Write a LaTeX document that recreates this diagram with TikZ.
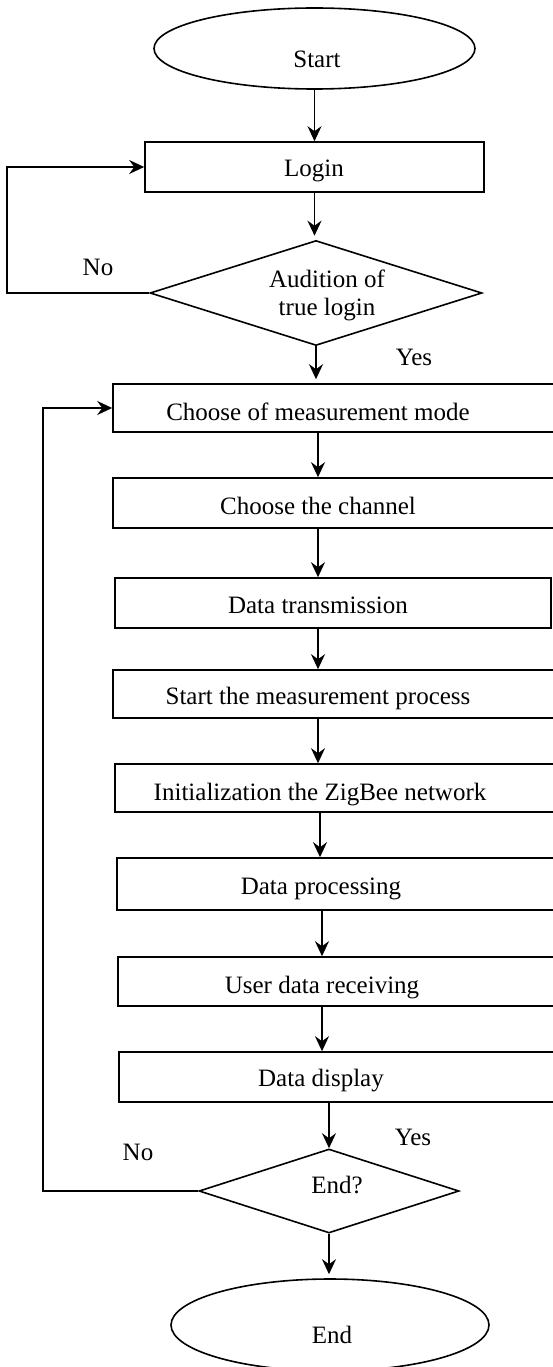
\documentclass[tikz,border=0pt]{standalone}
\usepackage{fontspec}
\setmainfont{Liberation Serif}
\usetikzlibrary{shapes.geometric,arrows.meta}
\begin{document}
\begin{tikzpicture}[x=1pt,y=-1pt,
  every node/.style={font=\fontsize{25}{28}\selectfont},
  stepbox/.style={draw,line width=1.6pt,inner sep=0pt},
  termbox/.style={draw,ellipse,line width=1.6pt,inner sep=0pt},
  testbox/.style={draw,diamond,line width=1.6pt,inner sep=0pt},
  flow/.style={line width=1.6pt,-{Stealth[length=15pt,width=14pt,inset=5pt]}}]
  \path[use as bounding box,clip] (0,0) rectangle (553,1367);

  % Start
  \node[termbox,minimum width=321pt,minimum height=81pt] (start) at (314.5,48.5) {};
  \node[anchor=base] (startt) at (317,68) {Start};

  % Login
  \node[stepbox,minimum width=339pt,minimum height=50pt] (login) at (314.5,167) {};
  \node[anchor=base] (logint) at (314,177) {Login};

  % check of login
  \node[testbox,minimum width=332pt,minimum height=105pt] (auth) at (316,293) {};
  \node[align=center] (autht) at (327,295) {Audition of\\true login};
  \node[anchor=base] (authno) at (98,275) {No};
  \node[anchor=base] (authyes) at (414,365) {Yes};

  % measurement steps
  \node[stepbox,minimum width=452pt,minimum height=48pt] (mode) at (339,408) {};
  \node[anchor=base] (modet) at (318,420) {Choose of measurement mode};

  \node[stepbox,minimum width=452pt,minimum height=50pt] (chan) at (339,503) {};
  \node[anchor=base] (chant) at (318,514) {Choose the channel};

  \node[stepbox,minimum width=436pt,minimum height=50pt] (trans) at (333,603) {};
  \node[anchor=base] (transt) at (318,613) {Data transmission};

  \node[stepbox,minimum width=452pt,minimum height=48pt] (meas) at (339,694) {};
  \node[anchor=base] (meast) at (318,704) {Start the measurement process};

  \node[stepbox,minimum width=450pt,minimum height=48pt] (init) at (340,788) {};
  \node[anchor=base] (initt) at (320,800) {Initialization the ZigBee network};

  \node[stepbox,minimum width=448pt,minimum height=52pt] (proc) at (341,884) {};
  \node[anchor=base] (proct) at (321,894) {Data processing};

  \node[stepbox,minimum width=447pt,minimum height=49pt] (recv) at (341.5,981.5) {};
  \node[anchor=base] (recvt) at (322,993) {User data receiving};

  \node[stepbox,minimum width=446pt,minimum height=50pt] (disp) at (342,1077) {};
  \node[anchor=base] (dispt) at (321,1086) {Data display};

  % end check
  \node[testbox,minimum width=260pt,minimum height=84pt] (endq) at (329,1191) {};
  \node[anchor=base] (endqt) at (337,1193) {End?};
  \node[anchor=base] (endno) at (138,1160) {No};
  \node[anchor=base] (endyes) at (413,1145) {Yes};

  % End
  \node[termbox,minimum width=318pt,minimum height=92pt] (stop) at (330,1325) {};
  \node[anchor=base] (stopt) at (332,1343) {End};

  % arrows
  \draw[flow] (start) -- (login);
  \draw[flow,shorten >=4pt] (login.south) -- (login.south |- auth.north);
  \draw[flow,shorten >=4pt] (auth.south) -- (auth.south |- mode.north);
  \draw[flow] (modet |- mode.south) -- (modet |- chan.north);
  \draw[flow] (chant |- chan.south) -- (chant |- trans.north);
  \draw[flow] (transt |- trans.south) -- (transt |- meas.north);
  \draw[flow] (meast |- meas.south) -- (meast |- init.north);
  \draw[flow] (initt |- init.south) -- (initt |- proc.north);
  \draw[flow] (recvt |- proc.south) -- (recvt |- recv.north);
  \draw[flow] (recvt |- recv.south) -- (recvt |- disp.north);
  \draw[flow] (endq.north |- disp.south) -- (endq.north);
  \draw[flow,shorten >=4pt] (endq.south) -- (endq.south |- stop.north);

  % loops back
  \coordinate (backA) at (7,0);
  \draw[flow] (auth.west) -- (auth.west -| backA) |- (login.west);
  \coordinate (backB) at (43,0);
  \draw[flow] (endq.west) -- (endq.west -| backB) |- (mode.west);
\end{tikzpicture}
\end{document}
